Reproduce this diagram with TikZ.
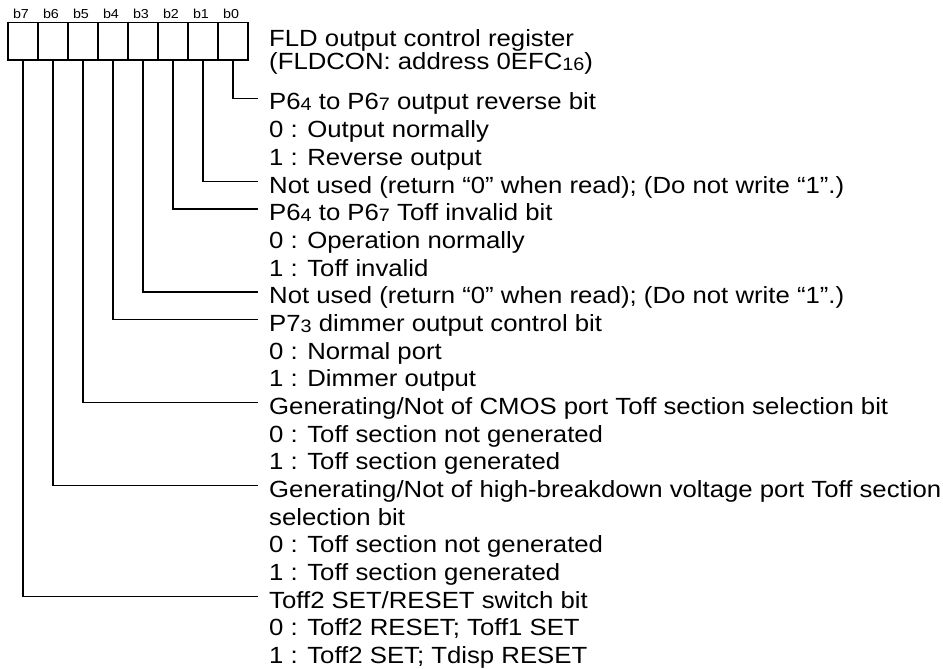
\documentclass[tikz,border=0pt]{standalone}
\usepackage{fontspec}
\setmainfont{Liberation Sans}[FakeStretch=1.1]
\usetikzlibrary{positioning,calc}
\newcommand{\sbs}[1]{\raisebox{-1pt}{\fontsize{18}{18}\selectfont #1}}

\begin{document}
\begin{tikzpicture}[x=1pt,y=-1pt,every node/.style={font=\fontsize{23.4}{27.67}\selectfont,inner sep=0pt},
  cell/.style={draw,line width=1.4pt,minimum width=30pt,minimum height=37.3pt},
  bitlbl/.style={font=\fontsize{13}{13}\selectfont,anchor=base},
  descr/.style={anchor=base west},
  wire/.style={line width=1.4pt}]
\useasboundingbox (0,0) rectangle (943,669);
% register cells b7 ... b0
\foreach \k in {7,...,0}{
  \node[cell] (b\k) at ({23+30*(7-\k)},41.35) {};
  \node[bitlbl] (n\k) at ([xshift=-2pt,yshift=3.7pt]b\k.north) {b\k};
}
% register name
\node[descr] (title) at (269,46.7) {FLD output control register};
\node[descr] (addr) at (269,70) {(FLDCON: address 0EFC\sbs{16})};
% bit descriptions
\foreach \txt [count=\i] in {
  {P6\sbs{4} to P6\sbs{7} output reverse bit},
  {0 : Output normally},
  {1 : Reverse output},
  {Not used (return “0” when read); (Do not write “1”.)},
  {P6\sbs{4} to P6\sbs{7} Toff invalid bit},
  {0 : Operation normally},
  {1 : Toff invalid},
  {Not used (return “0” when read); (Do not write “1”.)},
  {P7\sbs{3} dimmer output control bit},
  {0 : Normal port},
  {1 : Dimmer output},
  {Generating/Not of CMOS port Toff section selection bit},
  {0 : Toff section not generated},
  {1 : Toff section generated},
  {Generating/Not of high-breakdown voltage port Toff section},
  {selection bit},
  {0 : Toff section not generated},
  {1 : Toff section generated},
  {Toff2 SET/RESET switch bit},
  {0 : Toff2 RESET; Toff1 SET},
  {1 : Toff2 SET; Tdisp RESET}}
  \node[descr] (t\i) at (269,{110+27.67*(\i-1)}) {\txt};
% bit -> description wires
\foreach \k/\t in {0/1,1/4,2/5,3/8,4/9,5/12,6/15,7/19}
  \draw[wire] (b\k.south) |- ([xshift=-11.3pt,yshift=11.7pt]t\t.base west);
\end{tikzpicture}
\end{document}
